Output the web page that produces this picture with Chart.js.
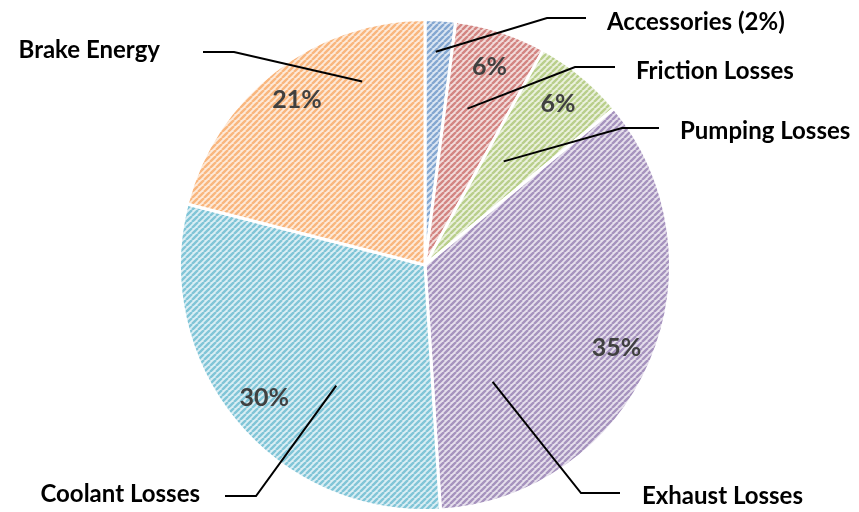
<!DOCTYPE html>
<html>
<head>
<meta charset="utf-8">
<script src="https://cdn.jsdelivr.net/npm/chart.js@4"></script>
<style>
  html, body { margin: 0; padding: 0; background: #fff; }
  #wrap { width: 859px; height: 512px; position: relative; }
</style>
</head>
<body>
<div id="wrap"><canvas id="chart"></canvas></div>
<script>
// energy split of the fuel input
const categories = ["Accessories", "Friction Losses", "Pumping Losses", "Exhaust Losses", "Coolant Losses", "Brake Energy"];
const shares = [2, 6, 6, 35, 30, 21];
const outerLabels = ["Accessories (2%)", "Friction Losses", "Pumping Losses", "Exhaust Losses", "Coolant Losses", "Brake Energy"];
const showInnerLabel = [false, true, true, true, true, true];

const sliceColors = ["#4f81bd", "#c0504d", "#9bbb59", "#8064a2", "#4bacc6", "#f79646"];

// where each leader line starts inside its slice: fraction of the slice's sweep, fraction of radius
const leaderStart = [
  [0.40, 0.87], [0.37, 0.66], [0.39, 0.53], [0.79, 0.55], [0.37, 0.61], [0.75, 0.79]
];
// elbow, end of horizontal run, text anchor (px)
const leaderLayout = [
  { elbow: [547, 18], end: [586, 18], text: [607, 22], align: "left" },
  { elbow: [575, 67], end: [615, 67], text: [636, 71], align: "left" },
  { elbow: [622, 128], end: [659, 128], text: [680, 131], align: "left" },
  { elbow: [581, 493], end: [620, 493], text: [642, 496], align: "left" },
  { elbow: [256, 496], end: [225, 496], text: [200, 494], align: "right" },
  { elbow: [234, 52], end: [203, 52], text: [160, 50], align: "right" }
];

function mix(hex, amt) {
  const n = parseInt(hex.slice(1), 16);
  const r = n >> 16, g = (n >> 8) & 255, b = n & 255;
  const m = c => Math.round(c + (255 - c) * amt);
  return `rgb(${m(r)},${m(g)},${m(b)})`;
}

// upward diagonal hatch on a pale tint of the series colour
function hatch(color) {
  const s = 6;
  const c = document.createElement("canvas");
  c.width = s; c.height = s;
  const x = c.getContext("2d");
  x.fillStyle = mix(color, 0.8);
  x.fillRect(0, 0, s, s);
  x.strokeStyle = mix(color, 0.3);
  x.lineWidth = 2.4;
  x.beginPath();
  for (const k of [-s, 0, s]) {
    x.moveTo(k, s);
    x.lineTo(k + s, 0);
  }
  x.stroke();
  return x.createPattern(c, "repeat");
}

function polar(arc, t, rf) {
  const a = arc.startAngle + (arc.endAngle - arc.startAngle) * t;
  const r = arc.outerRadius * rf;
  return [arc.x + Math.cos(a) * r, arc.y + Math.sin(a) * r];
}

const labelPlugin = {
  id: "sliceLabels",
  afterDatasetsDraw(chart) {
    const ctx = chart.ctx;
    const arcs = chart.getDatasetMeta(0).data;
    ctx.save();
    // percentages inside the slices
    ctx.font = "bold 25px Lato, 'Open Sans', sans-serif";
    ctx.fillStyle = "#404040";
    ctx.textAlign = "center";
    ctx.textBaseline = "middle";
    arcs.forEach((arc, i) => {
      if (!showInnerLabel[i]) return;
      const [px, py] = polar(arc, 0.5, 0.85);
      ctx.fillText(shares[i] + "%", px, py);
    });
    // leader lines and category names
    ctx.strokeStyle = "#000";
    ctx.lineWidth = 2;
    ctx.font = "bold 24px Lato, 'Open Sans', sans-serif";
    ctx.fillStyle = "#000";
    arcs.forEach((arc, i) => {
      const [sx, sy] = polar(arc, leaderStart[i][0], leaderStart[i][1]);
      const L = leaderLayout[i];
      ctx.beginPath();
      ctx.moveTo(sx, sy);
      ctx.lineTo(L.elbow[0], L.elbow[1]);
      ctx.lineTo(L.end[0], L.end[1]);
      ctx.stroke();
      ctx.textAlign = L.align;
      ctx.fillText(outerLabels[i], L.text[0], L.text[1]);
    });
    ctx.restore();
  }
};

new Chart(document.getElementById("chart"), {
  type: "pie",
  data: {
    labels: categories,
    datasets: [{
      data: shares,
      backgroundColor: sliceColors.map(hatch),
      borderColor: "#ffffff",
      borderWidth: 3
    }]
  },
  options: {
    responsive: true,
    maintainAspectRatio: false,
    animation: false,
    layout: { padding: { top: 18, bottom: 0, left: 0, right: 9 } },
    plugins: {
      legend: { display: false },
      tooltip: { enabled: false }
    }
  },
  plugins: [labelPlugin]
});
</script>
</body>
</html>
